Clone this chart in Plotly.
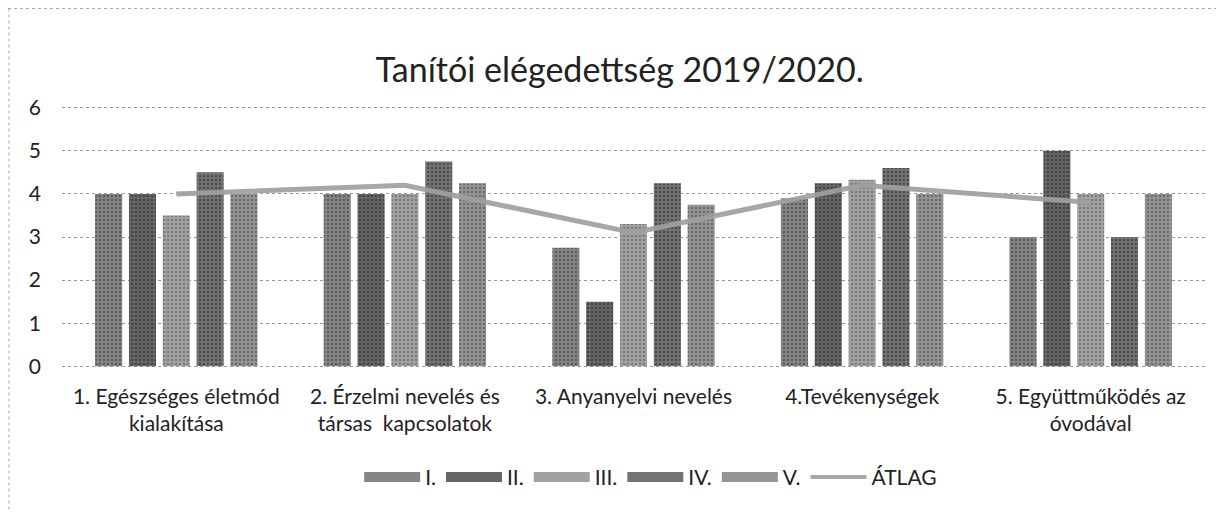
import plotly.graph_objects as go

categories = [
    "1. Egészséges életmód<br>kialakítása",
    "2. Érzelmi nevelés és<br>társas  kapcsolatok",
    "3. Anyanyelvi nevelés",
    "4.Tevékenységek",
    "5. Együttműködés az<br>óvodával",
]
series_names = ["I.", "II.", "III.", "IV.", "V."]
s_I = [4.0, 4.0, 2.75, 3.9, 3.0]
s_II = [4.0, 4.0, 1.5, 4.25, 5.0]
s_III = [3.5, 4.0, 3.3, 4.33, 4.0]
s_IV = [4.5, 4.75, 4.25, 4.6, 3.0]
s_V = [4.0, 4.25, 3.75, 4.0, 4.0]
atlag = [4.0, 4.2, 3.1, 4.2, 3.8]
y_ticks = [0, 1, 2, 3, 4, 5, 6]

bar_bg = ["#858585", "#666666", "#a2a2a2", "#737373", "#959595"]
bar_fg = ["#333333", "#222222", "#555555", "#2a2a2a", "#444444"]

FONT = "Lato, Open Sans, sans-serif"

# The page body adds an 8px margin, so the figure is 8px smaller on each axis
W, H = 1216, 504
pad = 0.04
plot_h = 258 + 2 * pad * 43

fig = go.Figure()
for name, vals, bg, fg in zip(series_names, [s_I, s_II, s_III, s_IV, s_V], bar_bg, bar_fg):
    fig.add_trace(go.Bar(
        x=categories, y=vals, name=name, showlegend=False, legendgroup=name,
        marker=dict(color=bg, line=dict(width=0),
                    pattern=dict(shape=".", bgcolor=bg, fgcolor=fg, size=4, solidity=0.35)),
    ))
fig.add_trace(go.Scatter(
    x=categories, y=atlag, name="ÁTLAG", mode="lines", showlegend=False,
    legendgroup="ÁTLAG",
    line=dict(color="rgba(160,160,160,0.92)", width=5),
))
# legend-only entries (wide swatches like the original)
for name, bg in zip(series_names, bar_bg):
    fig.add_trace(go.Scatter(x=[None], y=[None], name=name, mode="lines",
                             legendgroup=name, line=dict(color=bg, width=11)))
fig.add_trace(go.Scatter(x=[None], y=[None], name="ÁTLAG", mode="lines",
                         legendgroup="ÁTLAG", line=dict(color="rgba(160,160,160,0.92)", width=4)))

top = 100 - pad * 43
bottom = H - (358 + pad * 43)
fig.update_layout(
    width=W, height=H,
    paper_bgcolor="white", plot_bgcolor="white",
    margin=dict(l=54, r=19, t=top, b=bottom, autoexpand=False),
    title=dict(text="Tanítói elégedettség 2019/2020.", x=0.503, xanchor="center",
               y=1 - 62 / H, yanchor="middle",
               font=dict(family=FONT, size=34, color="#222222")),
    font=dict(family=FONT, size=21, color="#222222"),
    barmode="group", bargap=0.26, bargroupgap=0.2,
    showlegend=True,
    legend=dict(orientation="h", x=0.515, xanchor="center", y=-(467 - 358) / plot_h,
                yanchor="middle", font=dict(size=21), itemwidth=56, traceorder="normal"),
    xaxis=dict(showgrid=False, showline=False, ticks="", automargin=False,
               tickfont=dict(size=21), ticklabelstandoff=14),
    yaxis=dict(range=[-pad, 6 + pad], tickvals=y_ticks, showgrid=True, gridcolor="#9a9a9a",
               griddash="dot", gridwidth=1, zeroline=False, showline=False,
               automargin=False, ticklabelstandoff=20, tickfont=dict(size=21)),
    shapes=[
        dict(type="line", xref="paper", yref="paper", x0=-54 / 1143, x1=1.02,
             y0=(plot_h + top - 1) / plot_h, y1=(plot_h + top - 1) / plot_h,
             line=dict(color="#aaaaaa", width=1, dash="dot")),
        dict(type="line", xref="paper", yref="paper", x0=-53 / 1143, x1=-53 / 1143,
             y0=(plot_h + top - 1) / plot_h, y1=-bottom / plot_h,
             line=dict(color="#aaaaaa", width=1, dash="dot")),
    ],
)

fig.write_html("out.html")
